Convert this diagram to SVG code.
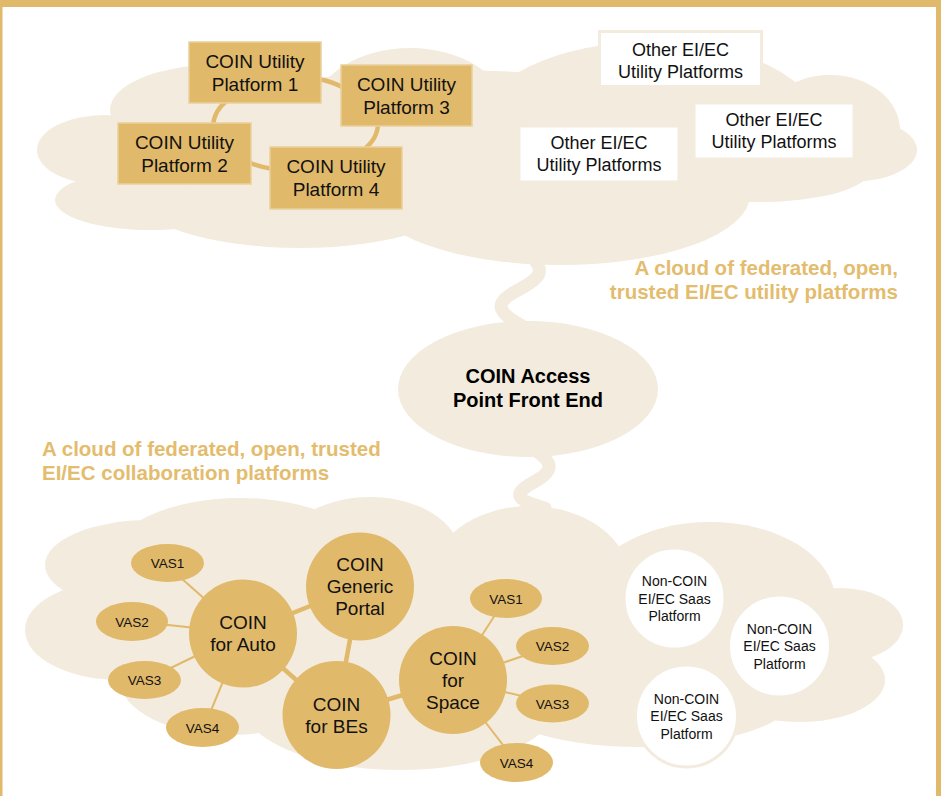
<svg xmlns="http://www.w3.org/2000/svg" width="941" height="796" viewBox="0 0 941 796">
<style>
.cloud{fill:#F3EBDD}
.gold{fill:#E1B96A}
.box{fill:#E1B96A;stroke:#EAD09C;stroke-width:1.5}
.wbox{fill:#FFFFFF;stroke:#F3EBDD;stroke-width:3}
.t{font-family:"Liberation Sans",Arial,sans-serif;fill:#111111;text-anchor:middle}
.t19{font-size:19px}
.t18{font-size:18px}
.t14{font-size:14px}
.t13{font-size:13.5px}
.tb{font-family:"Liberation Sans",Arial,sans-serif;font-weight:bold;font-size:20px}
.cap{font-size:20.5px}
.orange{fill:#E3BC6E}
.thick{stroke:#E1B96A;stroke-width:4.5;fill:none}
.thin{stroke:#E1B96A;stroke-width:2;fill:none}
.wig{stroke:#F3EBDD;stroke-width:13;fill:none;stroke-linecap:round}
</style>

<!-- frame -->
<rect x="0" y="0" width="941" height="796" fill="#FFFFFF"/>
<rect x="0" y="0" width="941" height="7" class="gold"/>
<rect x="0" y="0" width="2.5" height="796" class="gold"/>
<rect x="936" y="0" width="5" height="796" class="gold"/>

<!-- top cloud -->
<g id="top-cloud" class="cloud">
  <ellipse cx="105" cy="150" rx="68" ry="35"/>
  <ellipse cx="150" cy="200" rx="95" ry="30"/>
  <ellipse cx="215" cy="110" rx="105" ry="45"/>
  <ellipse cx="410" cy="110" rx="95" ry="62"/>
  <ellipse cx="650" cy="125" rx="170" ry="83"/>
  <ellipse cx="830" cy="130" rx="70" ry="55"/>
  <ellipse cx="850" cy="150" rx="67" ry="32"/>
  <ellipse cx="760" cy="170" rx="110" ry="32"/>
  <ellipse cx="560" cy="195" rx="190" ry="70"/>
  <ellipse cx="300" cy="190" rx="170" ry="58"/>
  <ellipse cx="450" cy="150" rx="300" ry="80"/>
</g>

<!-- wiggles -->
<path class="wig" d="M 533 258 C 545 272 540 278 520 289 C 495 302 494 310 522 326"/>
<path class="wig" d="M 535 450 C 552 462 556 470 534 482 C 512 494 515 500 545 508"/>

<!-- access point ellipse -->
<g id="access-point">
  <ellipse cx="528" cy="389" rx="130" ry="68" class="cloud"/>
  <text class="tb" x="528" y="383" text-anchor="middle" fill="#000">COIN Access</text>
  <text class="tb" x="528" y="407" text-anchor="middle" fill="#000">Point Front End</text>
</g>

<!-- bottom cloud -->
<g id="bottom-cloud" class="cloud">
  <ellipse cx="120" cy="630" rx="95" ry="50"/>
  <ellipse cx="150" cy="565" rx="105" ry="45"/>
  <ellipse cx="240" cy="560" rx="130" ry="62"/>
  <ellipse cx="370" cy="555" rx="90" ry="58"/>
  <ellipse cx="530" cy="580" rx="100" ry="74"/>
  <ellipse cx="710" cy="600" rx="125" ry="78"/>
  <ellipse cx="840" cy="625" rx="63" ry="37"/>
  <ellipse cx="800" cy="680" rx="85" ry="42"/>
  <ellipse cx="640" cy="690" rx="160" ry="57"/>
  <ellipse cx="400" cy="700" rx="160" ry="70"/>
  <ellipse cx="230" cy="680" rx="110" ry="55"/>
  <ellipse cx="450" cy="640" rx="330" ry="80"/>
</g>

<!-- captions -->
<g id="caption-top" class="tb cap orange" text-anchor="end">
  <text x="898" y="275">A cloud of federated, open,</text>
  <text x="898" y="299">trusted EI/EC utility platforms</text>
</g>
<g id="caption-bottom" class="tb cap orange">
  <text x="42" y="456">A cloud of federated, open, trusted</text>
  <text x="42" y="480">EI/EC collaboration platforms</text>
</g>

<!-- connectors -->
<g id="connectors">
  <path class="thick" d="M 318 79 Q 331 81 344 88"/>
  <path class="thick" d="M 228 100 Q 214 110 213 126"/>
  <path class="thick" d="M 378 123 Q 378 139 363 150"/>
  <path class="thick" d="M 248 162 Q 259 167 273 169"/>

  <line class="thin" x1="172" y1="570" x2="243" y2="633"/>
  <line class="thin" x1="140" y1="622" x2="243" y2="633"/>
  <line class="thin" x1="150" y1="678" x2="243" y2="633"/>
  <line class="thin" x1="205" y1="725" x2="243" y2="633"/>
  <line class="thick" x1="243" y1="633" x2="360" y2="586"/>
  <line class="thick" x1="243" y1="633" x2="336" y2="715"/>
  <line class="thick" x1="360" y1="586" x2="336" y2="715"/>
  <line class="thick" x1="336" y1="715" x2="453" y2="680"/>
  <line class="thin" x1="453" y1="680" x2="506" y2="598"/>
  <line class="thin" x1="453" y1="680" x2="552" y2="646"/>
  <line class="thin" x1="453" y1="680" x2="552" y2="703"/>
  <line class="thin" x1="453" y1="680" x2="516" y2="762"/>
</g>

<!-- COIN utility platforms -->
<g id="cup1">
  <rect class="box" x="189" y="42" width="132" height="61"/>
  <text class="t t19" x="255" y="68">COIN Utility</text>
  <text class="t t19" x="255" y="91">Platform 1</text>
</g>
<g id="cup2">
  <rect class="box" x="118" y="123" width="133" height="61"/>
  <text class="t t19" x="184.5" y="149">COIN Utility</text>
  <text class="t t19" x="184.5" y="172">Platform 2</text>
</g>
<g id="cup3">
  <rect class="box" x="341" y="65" width="131" height="61"/>
  <text class="t t19" x="406.5" y="91">COIN Utility</text>
  <text class="t t19" x="406.5" y="114">Platform 3</text>
</g>
<g id="cup4">
  <rect class="box" x="270" y="147" width="132" height="62"/>
  <text class="t t19" x="336" y="173">COIN Utility</text>
  <text class="t t19" x="336" y="196">Platform 4</text>
</g>

<!-- other platforms -->
<g id="other1">
  <rect class="wbox" x="599.5" y="31.5" width="162" height="55"/>
  <text class="t t18" x="680.5" y="56">Other EI/EC</text>
  <text class="t t18" x="680.5" y="78">Utility Platforms</text>
</g>
<g id="other2">
  <rect class="wbox" x="694" y="103" width="160" height="56"/>
  <text class="t t18" x="774" y="126">Other EI/EC</text>
  <text class="t t18" x="774" y="148">Utility Platforms</text>
</g>
<g id="other3">
  <rect class="wbox" x="519" y="126" width="160" height="56"/>
  <text class="t t18" x="599" y="149">Other EI/EC</text>
  <text class="t t18" x="599" y="171">Utility Platforms</text>
</g>

<!-- VAS nodes (auto) -->
<g id="vas1a"><ellipse class="gold" cx="167.5" cy="563" rx="36.5" ry="19"/><text class="t t13" x="167.5" y="568">VAS1</text></g>
<g id="vas2a"><ellipse class="gold" cx="132" cy="621.5" rx="36" ry="19.5"/><text class="t t13" x="132" y="626.5">VAS2</text></g>
<g id="vas3a"><ellipse class="gold" cx="144.5" cy="680" rx="36.5" ry="19"/><text class="t t13" x="144.5" y="685">VAS3</text></g>
<g id="vas4a"><ellipse class="gold" cx="202.5" cy="727.5" rx="36.5" ry="19.5"/><text class="t t13" x="202.5" y="732.5">VAS4</text></g>

<!-- VAS nodes (space) -->
<g id="vas1s"><ellipse class="gold" cx="506" cy="598.5" rx="36" ry="19.5"/><text class="t t13" x="506" y="603.5">VAS1</text></g>
<g id="vas2s"><ellipse class="gold" cx="552.5" cy="646" rx="36.5" ry="19"/><text class="t t13" x="552.5" y="651">VAS2</text></g>
<g id="vas3s"><ellipse class="gold" cx="552.5" cy="703.5" rx="36.5" ry="19"/><text class="t t13" x="552.5" y="708.5">VAS3</text></g>
<g id="vas4s"><ellipse class="gold" cx="516.5" cy="762.5" rx="36.5" ry="19.5"/><text class="t t13" x="516.5" y="767.5">VAS4</text></g>

<!-- COIN circles -->
<g id="coin-auto">
  <circle class="gold" cx="243" cy="633.5" r="54"/>
  <text class="t t19" x="243" y="629">COIN</text>
  <text class="t t19" x="243" y="651">for Auto</text>
</g>
<g id="coin-generic">
  <circle class="gold" cx="360" cy="586.5" r="54"/>
  <text class="t t19" x="360" y="571">COIN</text>
  <text class="t t19" x="360" y="593">Generic</text>
  <text class="t t19" x="360" y="615">Portal</text>
</g>
<g id="coin-bes">
  <circle class="gold" cx="336.5" cy="715" r="54"/>
  <text class="t t19" x="336.5" y="711">COIN</text>
  <text class="t t19" x="336.5" y="733">for BEs</text>
</g>
<g id="coin-space">
  <circle class="gold" cx="453" cy="680" r="54"/>
  <text class="t t19" x="453" y="665">COIN</text>
  <text class="t t19" x="453" y="687">for</text>
  <text class="t t19" x="453" y="709">Space</text>
</g>

<!-- Non-COIN -->
<g id="noncoin1">
  <circle class="wbox" cx="674.5" cy="598.5" r="50.5"/>
  <text class="t t14" x="674.5" y="586">Non-COIN</text>
  <text class="t t14" x="674.5" y="603.5">EI/EC Saas</text>
  <text class="t t14" x="674.5" y="621">Platform</text>
</g>
<g id="noncoin2">
  <circle class="wbox" cx="779.5" cy="646" r="51"/>
  <text class="t t14" x="779.5" y="633.5">Non-COIN</text>
  <text class="t t14" x="779.5" y="651">EI/EC Saas</text>
  <text class="t t14" x="779.5" y="668.5">Platform</text>
</g>
<g id="noncoin3">
  <circle class="wbox" cx="686.5" cy="716" r="51"/>
  <text class="t t14" x="686.5" y="703.5">Non-COIN</text>
  <text class="t t14" x="686.5" y="721">EI/EC Saas</text>
  <text class="t t14" x="686.5" y="738.5">Platform</text>
</g>
</svg>
